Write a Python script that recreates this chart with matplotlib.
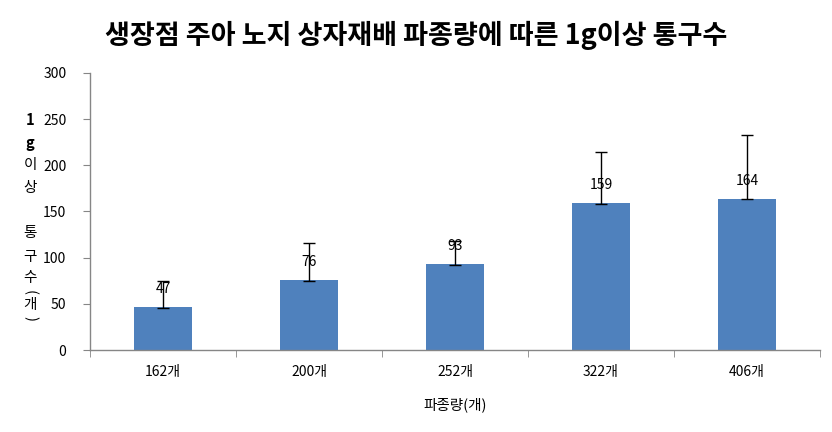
import numpy as np
import matplotlib
matplotlib.use('Agg')
import matplotlib.pyplot as plt

plt.rcParams['font.family'] = ['Noto Sans CJK KR', 'DejaVu Sans']

categories = ['162개', '200개', '252개', '322개', '406개']
values = [47, 76, 93, 159, 164]
err_plus = [28, 40, 25, 55, 69]
err_minus = [1, 1, 1, 1, 1]

title = '생장점 주아 노지 상자재배 파종량에 따른 1g이상 통구수'
xlabel = '파종량(개)'
ylabel_chars = ['1', 'g', '이', '상', '통', '구', '수', '(', '개', ')']
ylabel_ypix = [120, 143, 165, 188, 233, 257, 278, 292, 305, 318]

W, H = 832, 432
fig = plt.figure(figsize=(W / 100, H / 100), dpi=100)
ax = fig.add_axes([90 / W, (H - 350) / H, (820 - 90) / W, (350 - 73) / H])

x = np.arange(len(categories))
ax.bar(x, values, width=0.4, color='#4F81BD', zorder=2)
ax.errorbar(x, values, yerr=[err_minus, err_plus], fmt='none', ecolor='black',
            elinewidth=1, capsize=4, capthick=1, zorder=3)

for xi, v in zip(x, values):
    ax.annotate(str(v), (xi, v), xytext=(0, 13), textcoords='offset points',
                ha='center', va='center', fontsize=10, zorder=4)

ax.set_xlim(-0.5, len(categories) - 0.5)
ax.set_ylim(0, 300)
ax.set_yticks(np.arange(0, 301, 50))
ax.set_xticks(x)
ax.set_xticklabels(categories, fontsize=10)
ax.set_xticks(np.arange(-0.5, len(categories)), minor=True)
ax.tick_params(axis='x', which='major', length=0, pad=11)
ax.tick_params(axis='x', which='minor', length=5, color='#868686', direction='out')
ax.tick_params(axis='y', length=5, color='#868686', labelsize=10, pad=12)

for s in ['top', 'right']:
    ax.spines[s].set_visible(False)
for s in ['left', 'bottom']:
    ax.spines[s].set_color('#868686')
    ax.spines[s].set_linewidth(1)

ax.set_xlabel(xlabel, fontsize=10.5, labelpad=13)

fig.text(0.5, 1 - 35 / H, title, ha='center', va='center', fontsize=19.5, fontweight='bold')

# stacked vertical y label, parentheses turned sideways
for ch, yp in zip(ylabel_chars, ylabel_ypix):
    bold = 'bold' if ch in ('1', 'g') else 'normal'
    rot = -90 if ch in ('(', ')') else 0
    fig.text(30 / W, 1 - yp / H, ch, ha='center', va='center', fontsize=10.5,
             fontweight=bold, rotation=rot)

fig.savefig('out.png', dpi=100)
